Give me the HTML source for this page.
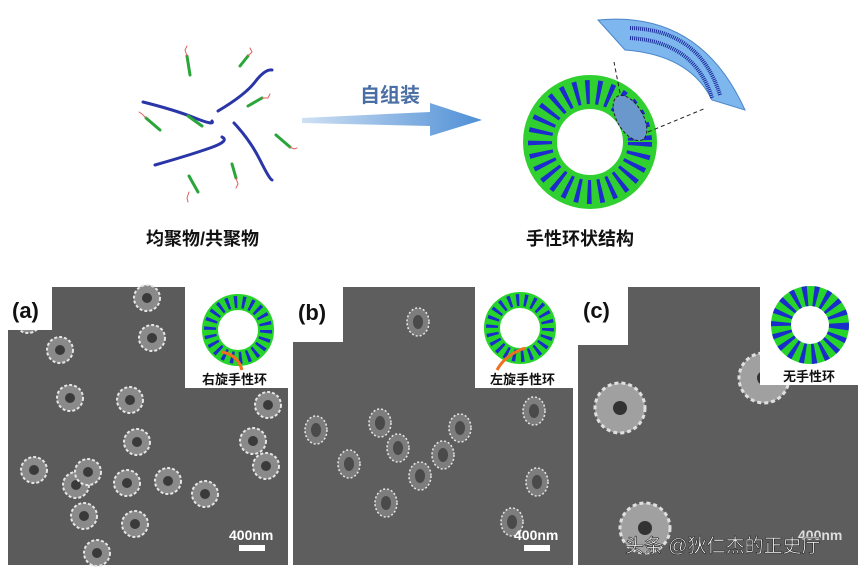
<!DOCTYPE html>
<html><head><meta charset="utf-8"><style>
body{margin:0;background:#fff;width:865px;height:571px;overflow:hidden;font-family:"Liberation Sans","Noto Sans CJK SC",sans-serif}
</style></head><body>
<svg width="865" height="571" viewBox="0 0 865 571" xmlns="http://www.w3.org/2000/svg" font-family="Liberation Sans, Noto Sans CJK SC, sans-serif">
<defs>
<linearGradient id="arr" x1="0" x2="1"><stop offset="0" stop-color="#cfe0f3"/><stop offset="1" stop-color="#4f8fd6"/></linearGradient>
<g id="ring"><circle r="13" fill="#8a8a8a" stroke="#e6e6e6" stroke-width="2" stroke-dasharray="3 2"/><circle r="5" fill="#3a3a3a"/></g>
<g id="ringb"><ellipse rx="11" ry="14" fill="#7d7d7d" stroke="#e8e8e8" stroke-width="1.5" stroke-dasharray="2 2"/><ellipse rx="5" ry="7" fill="#4a4a4a"/></g>
<g id="ringc"><circle r="25" fill="#a0a0a0" stroke="#e0e0e0" stroke-width="3" stroke-dasharray="4 3"/><circle r="7" fill="#333"/></g>
<g id="torus"><circle r="28" fill="none" stroke="#27d42a" stroke-width="16"/><circle r="28" fill="none" stroke="#1b2ccc" stroke-width="12" stroke-dasharray="3 5"/></g>
</defs>
<g fill="none" stroke-linecap="round">
<path d="M143 102 Q175 110 195 118 T212 121" stroke="#2a35a8" stroke-width="3"/>
<path d="M218 111 Q245 95 255 82 T272 70" stroke="#2a35a8" stroke-width="3"/>
<path d="M155 165 Q190 155 210 148 T222 137" stroke="#2a35a8" stroke-width="3"/>
<path d="M234 123 Q250 140 260 160 T272 180" stroke="#2a35a8" stroke-width="3"/>
<g stroke="#2aa53a" stroke-width="3">
<line x1="187" y1="56" x2="190" y2="75"/><line x1="240" y1="66" x2="248" y2="56"/><line x1="146" y1="118" x2="160" y2="130"/>
<line x1="188" y1="116" x2="202" y2="126"/><line x1="248" y1="106" x2="262" y2="98"/><line x1="276" y1="135" x2="290" y2="147"/>
<line x1="232" y1="164" x2="236" y2="178"/><line x1="189" y1="176" x2="198" y2="192"/></g>
<g stroke="#e06060" stroke-width="1"><path d="M187 56 l-2 -6 2 -4"/><path d="M248 56 l4 -4 -2 -4"/><path d="M146 118 l-4 -4 -3 -2"/><path d="M262 98 l6 0 2 -4"/><path d="M290 147 l4 2 3 -1"/><path d="M236 178 l2 6 -2 4"/><path d="M189 192 l-2 6 1 4"/></g>
</g>
<text x="146" y="245" font-size="18" font-weight="bold" fill="#111">均聚物/共聚物</text>
<polygon points="302,118 430,112 430,103 482,120 430,136 430,126 302,123" fill="url(#arr)"/>
<text x="360" y="102" font-size="20" font-weight="bold" fill="#4a6fa5">自组装</text>
<circle cx="590" cy="142" r="50" fill="none" stroke="#2fd030" stroke-width="34"/>
<circle cx="590" cy="142" r="50" fill="none" stroke="#1d2ad0" stroke-width="24" stroke-dasharray="4 7"/>
<ellipse cx="630" cy="118" rx="13" ry="25" transform="rotate(-30 630 118)" fill="#6a98cc" stroke="#222" stroke-dasharray="3 2"/>
<line x1="620" y1="93" x2="614" y2="62" stroke="#222" stroke-dasharray="4 3"/>
<line x1="648" y1="132" x2="706" y2="108" stroke="#222" stroke-dasharray="4 3"/>
<path d="M598 20 Q700 10 745 110 L712 100 Q690 55 625 50 Z" fill="#7eb6ee" stroke="#4a86c8"/>
<path d="M630 28 Q700 30 720 95" fill="none" stroke="#1a2a9a" stroke-width="4" stroke-dasharray="1 1"/>
<path d="M630 38 Q695 42 712 98" fill="none" stroke="#1a2a9a" stroke-width="4" stroke-dasharray="1 1"/>
<text x="526" y="245" font-size="18" font-weight="bold" fill="#111">手性环状结构</text>
<rect x="8" y="287" width="280" height="278" fill="#5b5b5b"/>
<rect x="293" y="287" width="280" height="278" fill="#5e5e5e"/>
<rect x="578" y="287" width="280" height="278" fill="#5d5d5d"/>
<g>
<use href="#ring" x="147" y="298"/><use href="#ring" x="60" y="350"/><use href="#ring" x="152" y="338"/><use href="#ring" x="70" y="398"/>
<use href="#ring" x="130" y="400"/><use href="#ring" x="76" y="485"/><use href="#ring" x="268" y="405"/><use href="#ring" x="253" y="441"/>
<use href="#ring" x="137" y="442"/><use href="#ring" x="34" y="470"/><use href="#ring" x="88" y="472"/><use href="#ring" x="127" y="483"/>
<use href="#ring" x="168" y="481"/><use href="#ring" x="205" y="494"/><use href="#ring" x="266" y="466"/><use href="#ring" x="84" y="516"/>
<use href="#ring" x="135" y="524"/><use href="#ring" x="97" y="553"/><use href="#ring" x="28" y="320"/>
</g>
<g>
<use href="#ringb" x="418" y="322"/><use href="#ringb" x="316" y="430"/><use href="#ringb" x="380" y="423"/><use href="#ringb" x="443" y="455"/>
<use href="#ringb" x="460" y="428"/><use href="#ringb" x="398" y="448"/><use href="#ringb" x="349" y="464"/><use href="#ringb" x="534" y="411"/>
<use href="#ringb" x="537" y="482"/><use href="#ringb" x="386" y="503"/><use href="#ringb" x="512" y="522"/><use href="#ringb" x="420" y="476"/>
</g>
<use href="#ringc" x="620" y="408"/><use href="#ringc" x="764" y="378"/><use href="#ringc" x="645" y="528"/>
<rect x="8" y="287" width="44" height="43" fill="#fff"/><text x="12" y="318" font-size="22" font-weight="bold" fill="#111">(a)</text>
<rect x="293" y="287" width="50" height="55" fill="#fff"/><text x="298" y="320" font-size="22" font-weight="bold" fill="#111">(b)</text>
<rect x="578" y="287" width="50" height="58" fill="#fff"/><text x="583" y="318" font-size="22" font-weight="bold" fill="#111">(c)</text>
<rect x="185" y="287" width="103" height="101" fill="#fff"/>
<rect x="475" y="287" width="98" height="101" fill="#fff"/>
<rect x="760" y="287" width="98" height="98" fill="#fff"/>
<use href="#torus" x="238" y="330"/><use href="#torus" x="520" y="328"/>
<circle cx="810" cy="325" r="29" fill="none" stroke="#27d42a" stroke-width="20"/><circle cx="810" cy="325" r="29" fill="none" stroke="#1b2ccc" stroke-width="20" stroke-dasharray="4 6"/>
<path d="M242 370 Q238 355 222 352" fill="none" stroke="#f07020" stroke-width="3"/><path d="M497 370 Q505 355 525 348" fill="none" stroke="#f07020" stroke-width="3"/>
<text x="202" y="384" font-size="13" font-weight="bold" fill="#111">右旋手性环</text>
<text x="490" y="384" font-size="13" font-weight="bold" fill="#111">左旋手性环</text>
<text x="783" y="381" font-size="13" font-weight="bold" fill="#111">无手性环</text>
<text x="229" y="540" font-size="14" font-weight="bold" fill="#fff">400nm</text><rect x="239" y="545" width="26" height="6" fill="#fff"/>
<text x="514" y="540" font-size="14" font-weight="bold" fill="#fff">400nm</text><rect x="524" y="545" width="26" height="6" fill="#fff"/>
<text x="798" y="540" font-size="14" font-weight="bold" fill="#ddd">400nm</text>
<text x="625" y="552" font-size="19" fill="#fff" stroke="#222" stroke-width="0.6">头条 @狄仁杰的正史厅</text>
</svg>
</body></html>
